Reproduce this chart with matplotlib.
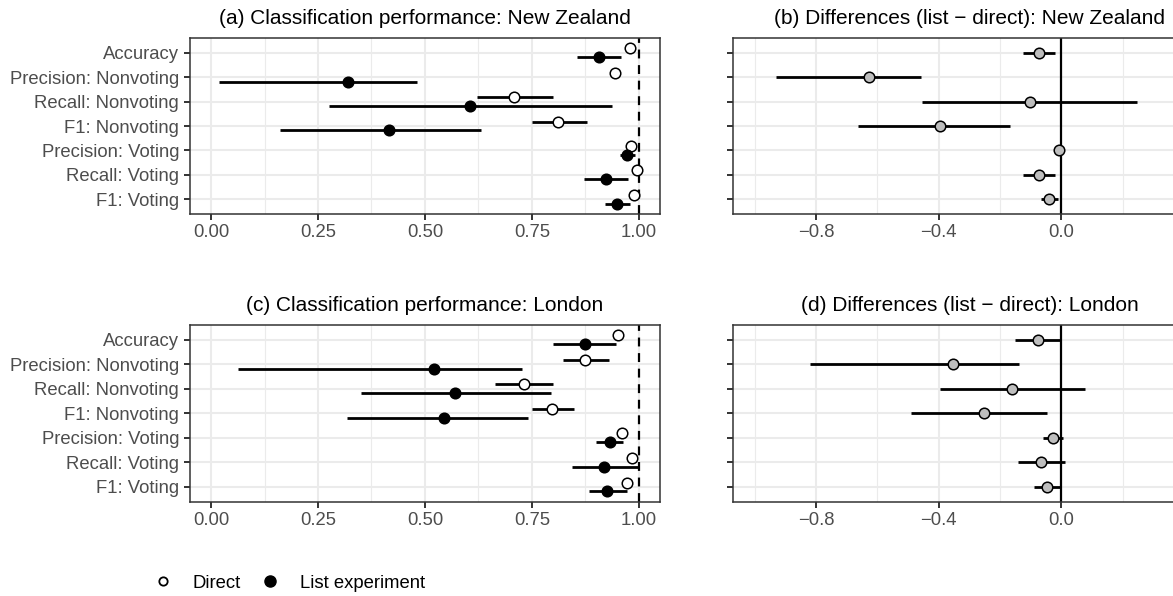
import matplotlib
matplotlib.use("Agg")
import matplotlib.pyplot as plt
from matplotlib.lines import Line2D
import numpy as np

plt.rcParams["font.family"] = ["Liberation Sans", "DejaVu Sans"]

metrics = ["Accuracy", "Precision: Nonvoting", "Recall: Nonvoting", "F1: Nonvoting",
           "Precision: Voting", "Recall: Voting", "F1: Voting"]

# New Zealand
nz_direct = [0.979, 0.945, 0.709, 0.810, 0.981, 0.995, 0.988]
nz_direct_lo = [0.972, 0.935, 0.622, 0.750, 0.975, 0.991, 0.983]
nz_direct_hi = [0.986, 0.955, 0.800, 0.878, 0.987, 0.999, 0.993]
nz_list = [0.906, 0.319, 0.605, 0.417, 0.973, 0.924, 0.948]
nz_list_lo = [0.854, 0.019, 0.276, 0.161, 0.956, 0.871, 0.920]
nz_list_hi = [0.957, 0.481, 0.938, 0.631, 0.991, 0.975, 0.978]
nz_diff = [-0.074, -0.629, -0.103, -0.395, -0.007, -0.074, -0.041]
nz_diff_lo = [-0.125, -0.930, -0.454, -0.662, -0.020, -0.125, -0.068]
nz_diff_hi = [-0.022, -0.459, 0.247, -0.168, 0.005, -0.022, -0.011]

# London
ld_direct = [0.950, 0.875, 0.731, 0.796, 0.960, 0.983, 0.971]
ld_direct_lo = [0.940, 0.823, 0.664, 0.750, 0.950, 0.975, 0.962]
ld_direct_hi = [0.960, 0.929, 0.799, 0.848, 0.970, 0.991, 0.980]
ld_list = [0.873, 0.522, 0.570, 0.545, 0.932, 0.919, 0.925]
ld_list_lo = [0.800, 0.062, 0.350, 0.317, 0.900, 0.843, 0.883]
ld_list_hi = [0.946, 0.727, 0.794, 0.741, 0.963, 0.998, 0.971]
ld_diff = [-0.077, -0.352, -0.162, -0.253, -0.027, -0.065, -0.047]
ld_diff_lo = [-0.151, -0.819, -0.396, -0.489, -0.061, -0.141, -0.088]
ld_diff_hi = [-0.003, -0.139, 0.076, -0.047, 0.005, 0.013, -0.003]

perf_ticks = [0.0, 0.25, 0.5, 0.75, 1.0]
perf_labels = ["0.00", "0.25", "0.50", "0.75", "1.00"]
diff_ticks = [-0.8, -0.4, 0.0]
diff_labels = ["\u22120.8", "\u22120.4", "0.0"]

TICK_FS = 13.3
TITLE_FS = 15
GRID = "#EBEBEB"
BORDER = "#333333"
DODGE = 0.18


def style_axes(ax, title, xlim, ticks, labels, minor, show_labels):
    y = np.arange(len(metrics))
    ax.set_xlim(*xlim)
    ax.set_ylim(len(metrics) - 0.4, -0.6)
    ax.set_xticks(ticks)
    ax.set_xticklabels(labels)
    ax.set_xticks(minor, minor=True)
    ax.set_yticks(y)
    ax.set_yticklabels(metrics if show_labels else [])
    ax.grid(True, which="major", color=GRID, lw=1.5, zorder=0)
    ax.grid(True, which="minor", axis="x", color=GRID, lw=0.8, zorder=0)
    ax.set_axisbelow(True)
    ax.tick_params(axis="both", which="major", labelsize=TICK_FS, labelcolor="#4D4D4D",
                   color=BORDER, length=4.5, width=1.4, pad=3)
    ax.tick_params(axis="x", which="minor", length=0)
    for s in ax.spines.values():
        s.set_color(BORDER)
        s.set_linewidth(1.1)
    ax.set_title(title, fontsize=TITLE_FS, pad=10)


def perf_panel(ax, title, d, dlo, dhi, l, llo, lhi):
    y = np.arange(len(metrics))
    ax.axvline(1.0, color="black", lw=1.6, ls=(0, (4, 3)), zorder=2)
    ax.hlines(y - DODGE, dlo, dhi, color="black", lw=2.0, zorder=3)
    ax.hlines(y + DODGE, llo, lhi, color="black", lw=2.0, zorder=3)
    ax.plot(d, y - DODGE, "o", ms=7.6, mfc="white", mec="black", mew=1.1, zorder=4)
    ax.plot(l, y + DODGE, "o", ms=7.6, mfc="black", mec="black", mew=1.1, zorder=5)
    style_axes(ax, title, (-0.05, 1.05), perf_ticks, perf_labels,
               [0.125, 0.375, 0.625, 0.875], True)


def diff_panel(ax, title, d, dlo, dhi):
    y = np.arange(len(metrics))
    ax.axvline(0.0, color="black", lw=1.6, zorder=2)
    ax.hlines(y, dlo, dhi, color="black", lw=2.0, zorder=3)
    ax.plot(d, y, "o", ms=7.6, mfc="#BEBEBE", mec="black", mew=1.1, zorder=4)
    style_axes(ax, title, (-1.07, 0.47), diff_ticks, diff_labels,
               [-1.0, -0.6, -0.2, 0.2], False)


def main():
    W, H = 1173, 596
    fig = plt.figure(figsize=(W / 100, H / 100), dpi=100)

    def px_axes(left, right, top, bottom):
        return fig.add_axes([left / W, 1 - bottom / H, (right - left) / W, (bottom - top) / H])

    ax_a = px_axes(189.6, 660.4, 38, 214)
    ax_b = px_axes(733.3, 1205.5, 38, 214)
    ax_c = px_axes(189.6, 660.4, 325, 501.7)
    ax_d = px_axes(733.3, 1205.5, 325, 501.7)

    perf_panel(ax_a, "(a) Classification performance: New Zealand",
               nz_direct, nz_direct_lo, nz_direct_hi, nz_list, nz_list_lo, nz_list_hi)
    diff_panel(ax_b, "(b) Differences (list \u2212 direct): New Zealand",
               nz_diff, nz_diff_lo, nz_diff_hi)
    perf_panel(ax_c, "(c) Classification performance: London",
               ld_direct, ld_direct_lo, ld_direct_hi, ld_list, ld_list_lo, ld_list_hi)
    diff_panel(ax_d, "(d) Differences (list \u2212 direct): London",
               ld_diff, ld_diff_lo, ld_diff_hi)

    handles = [
        Line2D([], [], ls="none", marker="o", ms=6, mfc="white", mec="black", mew=1.3),
        Line2D([], [], ls="none", marker="o", ms=8, mfc="black", mec="black"),
    ]
    fig.legend(handles, ["Direct", "List experiment"], ncol=2, frameon=False,
               loc="center left", bbox_to_anchor=(153.6 / W, 1 - 583 / H),
               fontsize=TICK_FS, handlelength=1.0, handletextpad=1.1,
               columnspacing=1.1, borderpad=0, borderaxespad=0)

    fig.savefig("out.png", dpi=100)


if __name__ == "__main__":
    main()
